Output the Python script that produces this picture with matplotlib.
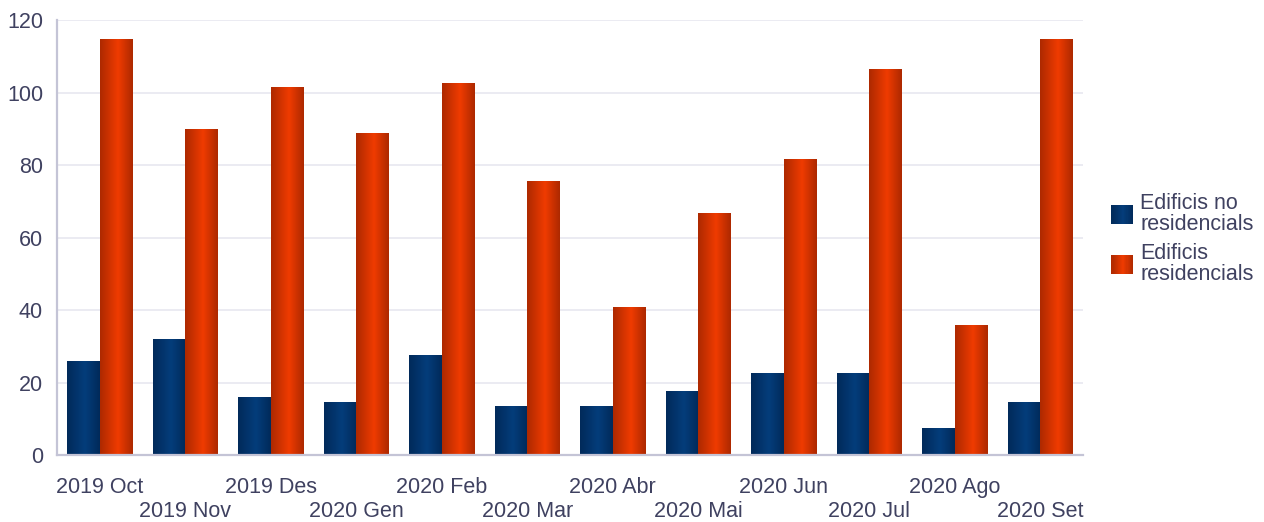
import numpy as np
import matplotlib
matplotlib.use('Agg')
import matplotlib.pyplot as plt
from matplotlib.colors import LinearSegmentedColormap
from matplotlib.patches import Rectangle
from matplotlib.legend_handler import HandlerBase

# ── Data ─────────────────────────────────────────────────────────────────────
months = ['2019 Oct', '2019 Nov', '2019 Des', '2020 Gen', '2020 Feb', '2020 Mar',
          '2020 Abr', '2020 Mai', '2020 Jun', '2020 Jul', '2020 Ago', '2020 Set']
no_residencials = [25.7, 31.8, 15.8, 14.4, 27.4, 13.3, 13.3, 17.4, 22.4, 22.4, 7.2, 14.4]
residencials = [114.5, 89.7, 101.3, 88.6, 102.4, 75.4, 40.6, 66.5, 81.4, 106.3, 35.6, 114.5]
series_names = ['Edificis no\nresidencials', 'Edificis\nresidencials']

# ── Style ────────────────────────────────────────────────────────────────────
txt_color = '#3f4160'
blue_cmap = LinearSegmentedColormap.from_list(
    'b', [(0, '#012a5a'), (0.55, '#043d7b'), (1, '#012a5a')])
red_cmap = LinearSegmentedColormap.from_list(
    'r', [(0, '#ad2900'), (0.55, '#f03b00'), (1, '#ad2900')])
grad = np.linspace(0, 1, 64).reshape(1, -1)

plt.rcParams['font.family'] = ['Liberation Sans', 'DejaVu Sans']

fig = plt.figure(figsize=(12.64, 5.22), dpi=100, facecolor='white')
ax = fig.add_axes([57 / 1264, 1 - 455.2 / 522, (1083 - 57) / 1264, 435 / 522])

x = np.arange(len(months))
w = 0.38
b1 = ax.bar(x - w / 2, no_residencials, w, color='none', edgecolor='none')
b2 = ax.bar(x + w / 2, residencials, w, color='none', edgecolor='none')

# gradient fill for each bar
for bars, cmap in ((b1, blue_cmap), (b2, red_cmap)):
    for p in bars:
        x0, y0 = p.get_x(), p.get_y()
        ax.imshow(grad, cmap=cmap, aspect='auto', interpolation='bicubic',
                  extent=(x0, x0 + p.get_width(), y0, y0 + p.get_height()),
                  zorder=3)

ax.set_xlim(-0.5, len(months) - 0.5)
ax.set_ylim(0, 120)
ax.set_yticks(np.arange(0, 121, 20))
ax.set_xticks(x)
ax.set_xticklabels([m if i % 2 == 0 else '\n' + m for i, m in enumerate(months)],
                   linespacing=1.15)
ax.tick_params(length=0, labelsize=15.5, labelcolor=txt_color)
ax.tick_params(axis='x', pad=16)
ax.tick_params(axis='y', pad=10)

ax.grid(axis='y', color='#ebebf2', linewidth=1.4, zorder=0)
ax.set_axisbelow(True)
for s in ('top', 'right'):
    ax.spines[s].set_visible(False)
for s in ('left', 'bottom'):
    ax.spines[s].set_color('#c4c4d6')
    ax.spines[s].set_linewidth(1.6)
    ax.spines[s].set_zorder(4)


# legend with gradient swatches
class GradHandler(HandlerBase):
    def __init__(self, cmap):
        super().__init__()
        self.cmap = cmap

    def create_artists(self, legend, orig_handle, xdescent, ydescent,
                       width, height, fontsize, trans):
        n = 20
        arts = []
        for i in range(n):
            arts.append(Rectangle((-xdescent + width * i / n, -ydescent), width / n + 0.3,
                                  height, facecolor=self.cmap((i + 0.5) / n),
                                  edgecolor='none', transform=trans))
        return arts


h1 = Rectangle((0, 0), 1, 1)
h2 = Rectangle((0, 0), 1, 1)
leg = fig.legend([h1, h2], series_names, loc='center left',
                 bbox_to_anchor=(1092 / 1264, 1 - 239 / 522), frameon=False,
                 fontsize=15.5, handlelength=1.0, handleheight=1.0,
                 handletextpad=0.35, labelspacing=0.35,
                 handler_map={h1: GradHandler(blue_cmap), h2: GradHandler(red_cmap)})
for t in leg.get_texts():
    t.set_color(txt_color)
    t.set_linespacing(1.0)

fig.savefig('out.png', dpi=100, facecolor='white')
